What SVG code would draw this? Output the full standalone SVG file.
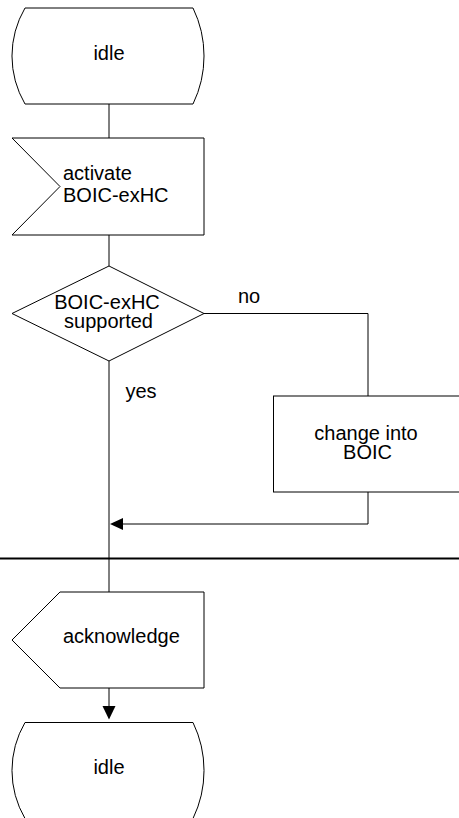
<svg xmlns="http://www.w3.org/2000/svg" width="459" height="818" viewBox="0 0 459 818">
<style>
.s{fill:#fff;stroke:#000;stroke-width:1}
.c{fill:none;stroke:#000;stroke-width:1}
.t{font-family:"Liberation Sans",Arial,sans-serif;font-size:20px;fill:#000}
.m{text-anchor:middle}
.a{fill:#000;stroke:none}
</style>
<rect width="459" height="818" fill="#fff"/>
<g id="connectors">
<line class="c" x1="109" y1="104" x2="109" y2="138"/>
<line class="c" x1="109" y1="235" x2="109" y2="266"/>
<line class="c" x1="109" y1="361" x2="109" y2="592"/>
<polyline class="c" points="204,313.5 368,313.5 368,396"/>
<polyline class="c" points="368,492 368,524 122,524"/>
<polygon class="a" points="110,524 123,518 123,530"/>
<line class="c" x1="109" y1="688" x2="109" y2="707"/>
<polygon class="a" points="109,719.5 102.5,706 115.5,706"/>
<line x1="0" y1="558.5" x2="459" y2="558.5" stroke="#000" stroke-width="2"/>
<text class="t" x="238" y="303">no</text>
<text class="t" x="125.5" y="398">yes</text>
</g>
<g id="idle1">
<path class="s" d="M25,8 L193,8 A110,110 0 0 1 193,104 L25,104 A95,95 0 0 1 25,8 Z"/>
<text class="t m" x="109" y="60">idle</text>
</g>
<g id="activate">
<polygon class="s" points="12,138 204,138 204,235 12,235 60,186.5"/>
<text class="t" x="63" y="180">activate</text>
<text class="t" x="63" y="202">BOIC-exHC</text>
</g>
<g id="decision">
<polygon class="s" points="109,266 204,313.5 109,361 12,313.5"/>
<text class="t m" x="107" y="308.5">BOIC-exHC</text>
<text class="t m" x="108.5" y="328">supported</text>
</g>
<g id="change">
<rect class="s" x="273.5" y="396" width="200" height="96"/>
<text class="t m" x="366" y="440">change into</text>
<text class="t m" x="367.5" y="459">BOIC</text>
</g>
<g id="acknowledge">
<polygon class="s" points="60,592 204,592 204,688 60,688 12,640"/>
<text class="t" x="63" y="643">acknowledge</text>
</g>
<g id="idle2">
<path class="s" d="M25,722.5 L193,722.5 A110,110 0 0 1 193,818.5 L25,818.5 A95,95 0 0 1 25,722.5 Z"/>
<text class="t m" x="109" y="774">idle</text>
</g>
</svg>
